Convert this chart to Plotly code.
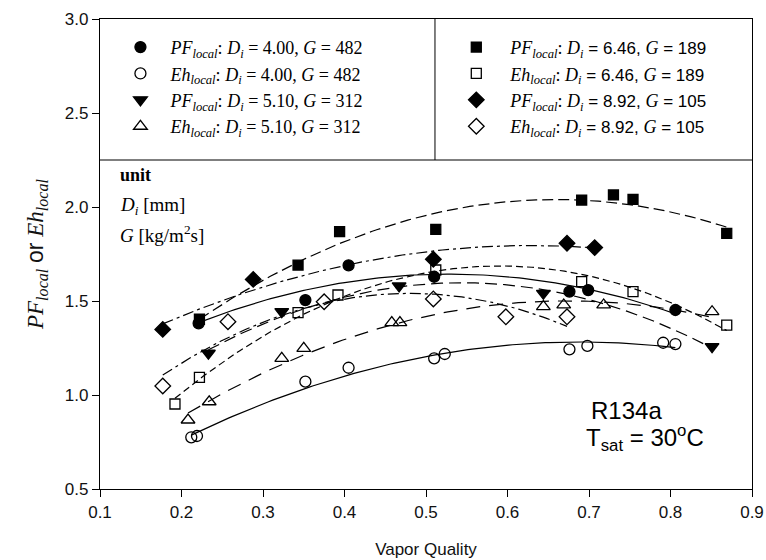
import numpy as np
import plotly.graph_objects as go

# ---------------- data ----------------
pf400_x = [0.221, 0.352, 0.405, 0.510, 0.676, 0.699, 0.806]
pf400_y = [1.381, 1.505, 1.690, 1.629, 1.550, 1.558, 1.452]
eh400_x = [0.212, 0.219, 0.352, 0.405, 0.510, 0.523, 0.676, 0.698, 0.791, 0.806]
eh400_y = [0.775, 0.782, 1.071, 1.145, 1.195, 1.218, 1.243, 1.261, 1.278, 1.271]
pf510_x = [0.233, 0.323, 0.467, 0.644, 0.851]
pf510_y = [1.222, 1.443, 1.580, 1.541, 1.257]
eh510_x = [0.208, 0.234, 0.323, 0.350, 0.458, 0.468, 0.644, 0.669, 0.718, 0.851]
eh510_y = [0.867, 0.964, 1.195, 1.248, 1.385, 1.385, 1.470, 1.479, 1.479, 1.443]
pf646_x = [0.222, 0.343, 0.394, 0.512, 0.691, 0.730, 0.754, 0.869]
pf646_y = [1.403, 1.691, 1.869, 1.881, 2.037, 2.064, 2.041, 1.860]
eh646_x = [0.192, 0.222, 0.343, 0.392, 0.512, 0.691, 0.754, 0.869]
eh646_y = [0.952, 1.094, 1.438, 1.532, 1.665, 1.603, 1.550, 1.372]
pf892_x = [0.177, 0.288, 0.509, 0.673, 0.707]
pf892_y = [1.349, 1.615, 1.722, 1.807, 1.784]
eh892_x = [0.177, 0.257, 0.375, 0.509, 0.598, 0.673]
eh892_y = [1.048, 1.390, 1.496, 1.511, 1.416, 1.416]

x_ticks = [0.1, 0.2, 0.3, 0.4, 0.5, 0.6, 0.7, 0.8, 0.9]
y_ticks = [0.5, 1.0, 1.5, 2.0, 2.5, 3.0]

SERIF = "Liberation Serif"
SANS = "Liberation Sans"


def lab_left(q, d, g):
    return (f"<i>{q}</i><sub><i>local</i></sub>: <i>D</i><sub><i>i</i></sub> = {d}, "
            f"<i>G</i> = {g}")


def lab_right(q, d, g):
    return (f"<i>{q}</i><sub><i>local</i></sub>: <i>D</i><sub><i>i</i></sub>"
            f"<span style=\"font-family:{SANS};font-size:17px\"> = {d}, </span>"
            f"<i>G</i><span style=\"font-family:{SANS};font-size:17px\"> = {g}</span>")


series = [
    # x, y, symbol, size, dash, label, legend
    (pf400_x, pf400_y, "circle", 11, "solid", lab_left("PF", "4.00", "482"), "legend"),
    (eh400_x, eh400_y, "circle-open", 11, "solid", lab_left("Eh", "4.00", "482"), "legend"),
    (pf510_x, pf510_y, "triangle-down", 12, "12px,6px", lab_left("PF", "5.10", "312"), "legend"),
    (eh510_x, eh510_y, "triangle-up-open", 12, "14px,9px", lab_left("Eh", "5.10", "312"), "legend"),
    (pf646_x, pf646_y, "square", 10, "11px,5px", lab_right("PF", "6.46", "189"), "legend2"),
    (eh646_x, eh646_y, "square-open", 10, "7px,4px", lab_right("Eh", "6.46", "189"), "legend2"),
    (pf892_x, pf892_y, "diamond", 12, "11px,4px,3px,4px", lab_right("PF", "8.92", "105"), "legend2"),
    (eh892_x, eh892_y, "diamond-open", 12, "11px,4px,3px,4px", lab_right("Eh", "8.92", "105"), "legend2"),
]

fig = go.Figure()

# quadratic regression curves through each data set
for xs, ys, sym, sz, dash, lab, leg in series:
    coef = np.polyfit(xs, ys, 2)
    xf = np.linspace(min(xs), max(xs), 120)
    fig.add_trace(go.Scatter(
        x=xf, y=np.polyval(coef, xf), mode="lines",
        line=dict(color="black", width=1.2, dash=dash),
        showlegend=False, hoverinfo="skip"))

for xs, ys, sym, sz, dash, lab, leg in series:
    fig.add_trace(go.Scatter(
        x=xs, y=ys, mode="markers", name=lab, legend=leg,
        marker=dict(symbol=sym, size=sz, color="black",
                    line=dict(color="black", width=1.3))))

# legend box separators
fig.add_shape(type="line", x0=0.1, x1=0.9, y0=2.25, y1=2.25, xref="x", yref="y",
              line=dict(color="#555555", width=1.5))
fig.add_shape(type="line", x0=0.511, x1=0.511, y0=2.25, y1=3.0, xref="x", yref="y",
              line=dict(color="black", width=1))

ann = [
    dict(x=0.028, y=0.668, text="<b>unit</b>", font=dict(family=SERIF, size=18, color="black")),
    dict(x=0.028, y=0.602, text="<i>D</i><sub><i>i</i></sub> [mm]",
         font=dict(family=SERIF, size=19, color="black")),
    dict(x=0.028, y=0.543, text="<i>G</i> [kg/m<sup>2</sup>s]",
         font=dict(family=SERIF, size=19, color="black")),
    dict(x=0.750, y=0.168, text="R134a", font=dict(family=SANS, size=24, color="black")),
    dict(x=0.743, y=0.108, text="T<sub>sat</sub> = 30<sup>o</sup>C",
         font=dict(family=SANS, size=24, color="black")),
]
for a in ann:
    fig.add_annotation(xref="paper", yref="paper", xanchor="left", yanchor="middle",
                       showarrow=False, **a)

axis_common = dict(
    showgrid=False, zeroline=False, ticks="outside", ticklen=7, tickwidth=1.2,
    tickcolor="black", linecolor="black", linewidth=1.2, mirror=True, automargin=False,
    tickfont=dict(family=SANS, size=17, color="#111"), tickformat=".1f",
)

fig.update_layout(
    width=766, height=560,
    margin=dict(l=100, r=14, t=19, b=71, autoexpand=False),
    paper_bgcolor="white", plot_bgcolor="white",
    xaxis=dict(range=[0.1, 0.9], tickvals=x_ticks,
               title=dict(text="Vapor Quality", font=dict(family=SANS, size=17, color="#111"),
                          standoff=22),
               **axis_common),
    yaxis=dict(range=[0.5, 3.0], tickvals=y_ticks,
               title=dict(text=("<i>PF</i><sub><i>local</i></sub> "
                                f"<span style=\"font-family:{SANS}\">or</span> "
                                "<i>Eh</i><sub><i>local</i></sub>"),
                          font=dict(family=SERIF, size=23, color="#111"), standoff=14),
               **axis_common),
    legend=dict(x=0.016, y=0.979, xanchor="left", yanchor="top", itemwidth=50,
                bgcolor="rgba(0,0,0,0)", font=dict(family=SERIF, size=18, color="black"),
                tracegroupgap=0),
    legend2=dict(x=0.525, y=0.979, xanchor="left", yanchor="top", itemwidth=58,
                 bgcolor="rgba(0,0,0,0)", font=dict(family=SERIF, size=18, color="black"),
                 tracegroupgap=0),
)

fig.write_html("out.html")
